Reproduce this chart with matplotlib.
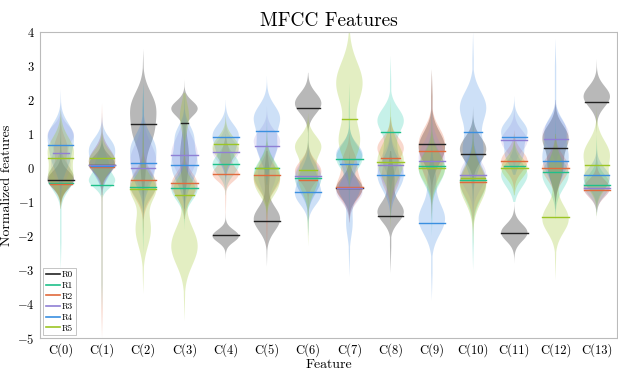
import numpy as np
import matplotlib
matplotlib.use("Agg")
import matplotlib.pyplot as plt
from matplotlib.lines import Line2D

plt.rcParams["font.family"] = "cmr10"
plt.rcParams["mathtext.fontset"] = "cm"
plt.rcParams["axes.formatter.use_mathtext"] = True

features = ["C(%d)" % i for i in range(14)]
classes = ["R0", "R1", "R2", "R3", "R4", "R5"]
line_colors = ["#222222", "#1fc08a", "#e06a3c", "#8f7fd4", "#3a8fe0", "#9cc524"]
fill_colors = ["#000000", "#1fc8a8", "#e8643a", "#9a86d8", "#3a86e0", "#9cc524"]

# median line per feature
R0_line = [-0.35, 0.08, 1.30, 1.33, -1.98, -1.55, 1.75, -0.58, -1.40, 0.70, 0.42, -1.90, 0.60, 1.95]
R1_line = [-0.45, -0.50, -0.55, -0.60, 0.12, 0.00, -0.30, 0.27, 1.05, 0.05, -0.35, 0.05, -0.12, -0.50]
R2_line = [-0.48, 0.02, -0.35, -0.45, -0.18, -0.20, -0.35, -0.55, 0.30, 0.50, -0.42, 0.22, 0.00, -0.65]
R3_line = [0.45, 0.10, 0.00, 0.38, 0.47, 0.65, -0.25, -0.60, 0.10, 0.20, -0.22, 0.82, 0.85, -0.60]
R4_line = [0.67, 0.05, 0.15, 0.10, 0.92, 1.10, -0.72, 0.12, -0.20, -1.62, 1.05, 0.90, 0.20, -0.20]
R5_line = [0.28, 0.30, -0.62, -0.78, 0.72, 0.00, -0.05, 1.45, 0.17, 0.00, -0.30, 0.00, -1.45, 0.10]

# density modes per feature: (centre, spread, weight)
R0_modes = [[(-0.35, 0.25, 1)], [(0.1, 0.25, 1)], [(1.8, 0.45, 1), (1.0, 0.4, 0.7), (0.0, 0.5, 0.2)],
            [(1.75, 0.22, 1), (0.3, 0.6, 0.35)], [(-2.0, 0.18, 1)], [(-1.5, 0.35, 1), (-0.2, 0.4, 0.2)],
            [(1.9, 0.3, 1)], [(-0.6, 0.3, 1)], [(-1.3, 0.3, 1), (-0.3, 0.4, 0.3)], [(0.6, 0.45, 1)],
            [(0.55, 0.35, 1)], [(-1.9, 0.25, 1)], [(0.9, 0.35, 1), (0.0, 0.4, 0.6)], [(2.1, 0.3, 1)]]
R1_modes = [[(-0.3, 0.35, 1)], [(-0.4, 0.2, 1), (0.1, 0.3, 0.6)], [(-0.5, 0.35, 1)], [(-0.6, 0.35, 1)],
            [(0.1, 0.3, 1)], [(-0.2, 0.4, 1)], [(-0.3, 0.4, 1)], [(0.3, 0.35, 1)],
            [(1.4, 0.35, 1), (0.3, 0.4, 0.6)], [(0.0, 0.45, 1)], [(-0.4, 0.5, 1)], [(-0.2, 0.35, 1)],
            [(-0.2, 0.4, 1)], [(-0.5, 0.3, 1)]]
R2_modes = [[(-0.3, 0.3, 1), (0.6, 0.3, 0.5)], [(0.2, 0.35, 1)], [(-0.5, 0.4, 1)], [(-0.5, 0.35, 1)],
            [(-0.2, 0.2, 1), (0.3, 0.3, 0.4)], [(-0.3, 0.35, 1)], [(-0.1, 0.3, 1)],
            [(-0.6, 0.35, 1), (0.2, 0.3, 0.5)], [(0.6, 0.3, 1), (-0.3, 0.35, 0.7)],
            [(0.8, 0.4, 1), (0.0, 0.4, 0.7)], [(-0.4, 0.45, 1)], [(0.2, 0.3, 1)], [(0.0, 0.35, 1)],
            [(-0.6, 0.25, 1)]]
R3_modes = [[(1.0, 0.25, 1), (0.1, 0.4, 0.8)], [(0.2, 0.35, 1)], [(0.2, 0.5, 1)], [(0.4, 0.5, 1)],
            [(0.5, 0.3, 1)], [(0.8, 0.3, 1), (-0.2, 0.4, 0.7)], [(-0.1, 0.3, 1), (-0.6, 0.3, 0.7)],
            [(-0.7, 0.3, 1)], [(0.0, 0.4, 1)], [(0.3, 0.45, 1)], [(-0.2, 0.4, 1)], [(0.8, 0.3, 1)],
            [(1.0, 0.35, 1)], [(-0.6, 0.25, 1)]]
R4_modes = [[(1.0, 0.35, 1), (0.3, 0.4, 0.8)], [(0.6, 0.3, 1), (0.0, 0.3, 0.8)],
            [(0.6, 0.4, 1), (-0.2, 0.4, 0.8)], [(0.1, 0.5, 1), (1.0, 0.3, 0.5)],
            [(1.0, 0.3, 1), (0.4, 0.3, 0.6)], [(1.5, 0.35, 1), (0.6, 0.4, 0.8)],
            [(-0.8, 0.3, 1), (-0.2, 0.3, 0.6)], [(0.4, 0.3, 1), (-0.6, 0.3, 0.8), (-1.6, 0.4, 0.25)],
            [(-0.2, 0.45, 1)], [(-1.5, 0.45, 1), (-0.3, 0.4, 0.3)], [(1.8, 0.45, 1), (0.5, 0.5, 0.8)],
            [(1.1, 0.3, 1), (0.4, 0.3, 0.7)], [(0.3, 0.5, 1), (1.2, 0.3, 0.6)], [(-0.3, 0.3, 1)]]
R5_modes = [[(0.5, 0.4, 1), (-0.3, 0.3, 0.8)], [(0.2, 0.3, 1)], [(-0.6, 0.35, 1), (-1.8, 0.5, 0.6)],
            [(-0.6, 0.3, 0.8), (-2.3, 0.55, 1), (1.5, 0.4, 0.35)], [(0.6, 0.3, 1)],
            [(-0.1, 0.35, 1), (-0.6, 0.3, 0.7)], [(0.65, 0.3, 1), (-0.3, 0.4, 0.8)],
            [(2.5, 0.6, 1), (0.8, 0.5, 0.8)], [(0.2, 0.5, 1)], [(0.0, 0.4, 1)], [(-0.5, 0.5, 1)],
            [(0.0, 0.3, 1)], [(-1.5, 0.4, 1), (0.0, 0.4, 0.5)], [(0.4, 0.4, 1), (-0.4, 0.3, 0.8)]]

# lowest / highest value per feature
R0_span = [(-1.2, 1.0), (-0.8, 1.0), (-1.5, 3.5), (-1.5, 2.6), (-2.7, -1.3), (-2.9, 0.5), (0.8, 2.8),
           (-1.6, 0.5), (-3.1, 0.5), (-1.2, 2.9), (-1.0, 1.8), (-2.8, -1.0), (-1.2, 2.0), (1.0, 3.2)]
R1_span = [(-3.0, 1.5), (-4.2, 1.2), (-2.5, 2.5), (-1.8, 1.5), (-0.8, 1.0), (-1.5, 1.5), (-2.0, 1.2),
           (-1.5, 2.5), (-1.0, 3.3), (-2.0, 1.8), (-3.0, 1.5), (-1.0, 1.0), (-1.5, 1.5), (-1.4, 1.0)]
R2_span = [(-1.2, 1.5), (-5.0, 1.9), (-2.0, 1.5), (-1.5, 1.2), (-1.5, 0.9), (-2.4, 1.0), (-1.5, 1.0),
           (-1.6, 1.0), (-1.4, 1.5), (-1.5, 2.9), (-2.0, 1.2), (-0.8, 1.1), (-1.0, 1.0), (-1.4, 0.5)]
R3_span = [(-1.0, 2.0), (-0.8, 1.5), (-1.5, 2.0), (-1.2, 2.0), (-0.6, 1.5), (-1.0, 1.8), (-1.5, 1.0),
           (-1.8, 0.5), (-1.3, 1.5), (-1.5, 2.0), (-1.6, 1.3), (-0.3, 1.8), (-0.2, 2.0), (-1.3, 0.5)]
R4_span = [(-1.0, 2.3), (-0.8, 1.6), (-1.5, 2.5), (-1.2, 2.2), (-0.5, 2.0), (-0.5, 2.7), (-2.0, 0.8),
           (-3.2, 1.5), (-1.5, 1.5), (-3.9, 1.0), (-1.5, 4.0), (-0.2, 2.1), (-1.5, 3.8), (-1.3, 0.8)]
R5_span = [(-1.2, 1.7), (-1.0, 1.3), (-3.7, 1.5), (-4.5, 2.2), (-0.4, 1.6), (-1.5, 1.2), (-2.3, 1.6),
           (-0.5, 4.0), (-1.8, 2.0), (-1.5, 1.5), (-2.3, 1.3), (-0.8, 1.0), (-3.3, 1.0), (-1.5, 1.8)]

all_lines = [R0_line, R1_line, R2_line, R3_line, R4_line, R5_line]
all_modes = [R0_modes, R1_modes, R2_modes, R3_modes, R4_modes, R5_modes]
all_spans = [R0_span, R1_span, R2_span, R3_span, R4_span, R5_span]
body_alpha = [0.28, 0.25, 0.25, 0.2, 0.25, 0.28]

WIDTH = 0.64


def violin_stats(modes, span, med):
    lo, hi = span
    y = np.linspace(lo, hi, 300)
    dens = np.zeros_like(y)
    for c, s, w in modes:
        dens += w * np.exp(-0.5 * ((y - c) / s) ** 2)
    # thin spindle so the tails stay visible
    tail = 0.05 * dens.max() * np.clip(np.minimum(y - lo, hi - y) / 0.8, 0, 1)
    dens = np.maximum(dens, tail)
    return dict(coords=y, vals=dens, mean=med, median=med, min=lo, max=hi)


fig = plt.figure(figsize=(6.18, 3.76), dpi=100)
ax = fig.add_axes([0.065, 0.101, 0.934, 0.814])
pos = np.arange(len(features))

stats = []
for k in range(len(classes)):
    st = [violin_stats(all_modes[k][i], all_spans[k][i], all_lines[k][i]) for i in pos]
    stats.append(st)
    parts = ax.violin(st, positions=pos, widths=WIDTH, showextrema=False)
    for body in parts["bodies"]:
        body.set_facecolor(fill_colors[k])
        body.set_edgecolor("none")
        body.set_alpha(body_alpha[k])

for k in range(len(classes)):
    for i in pos:
        st = stats[k][i]
        med = st["median"]
        half = 0.5 * WIDTH * np.interp(med, st["coords"], st["vals"]) / st["vals"].max()
        ax.plot([i - half, i + half], [med, med], color=line_colors[k], lw=1.0, zorder=5)

ax.set_xlim(-0.5, 13.5)
ax.set_ylim(-5, 4)
ax.set_xticks(pos)
ax.set_xticklabels(features)
ax.set_yticks(range(-5, 5))
ax.tick_params(length=0, labelsize=9, pad=4)
for sp in ax.spines.values():
    sp.set_color("#bbbbbb")
    sp.set_linewidth(0.8)

ax.set_title("MFCC Features", fontsize=14, pad=4)
ax.set_xlabel("Feature", fontsize=10, labelpad=1)
ax.set_ylabel("Normalized features", fontsize=10, labelpad=3)

handles = [Line2D([0], [0], color=c, lw=1.2) for c in line_colors]
leg = ax.legend(handles, classes, loc="lower left", fontsize=6.5, handlelength=1.6,
                handletextpad=0.2, labelspacing=0.25, borderpad=0.3, borderaxespad=0.3,
                fancybox=False, framealpha=1)
leg.get_frame().set_edgecolor("#bbbbbb")
leg.get_frame().set_linewidth(0.6)

fig.savefig("out.png", dpi=100)
